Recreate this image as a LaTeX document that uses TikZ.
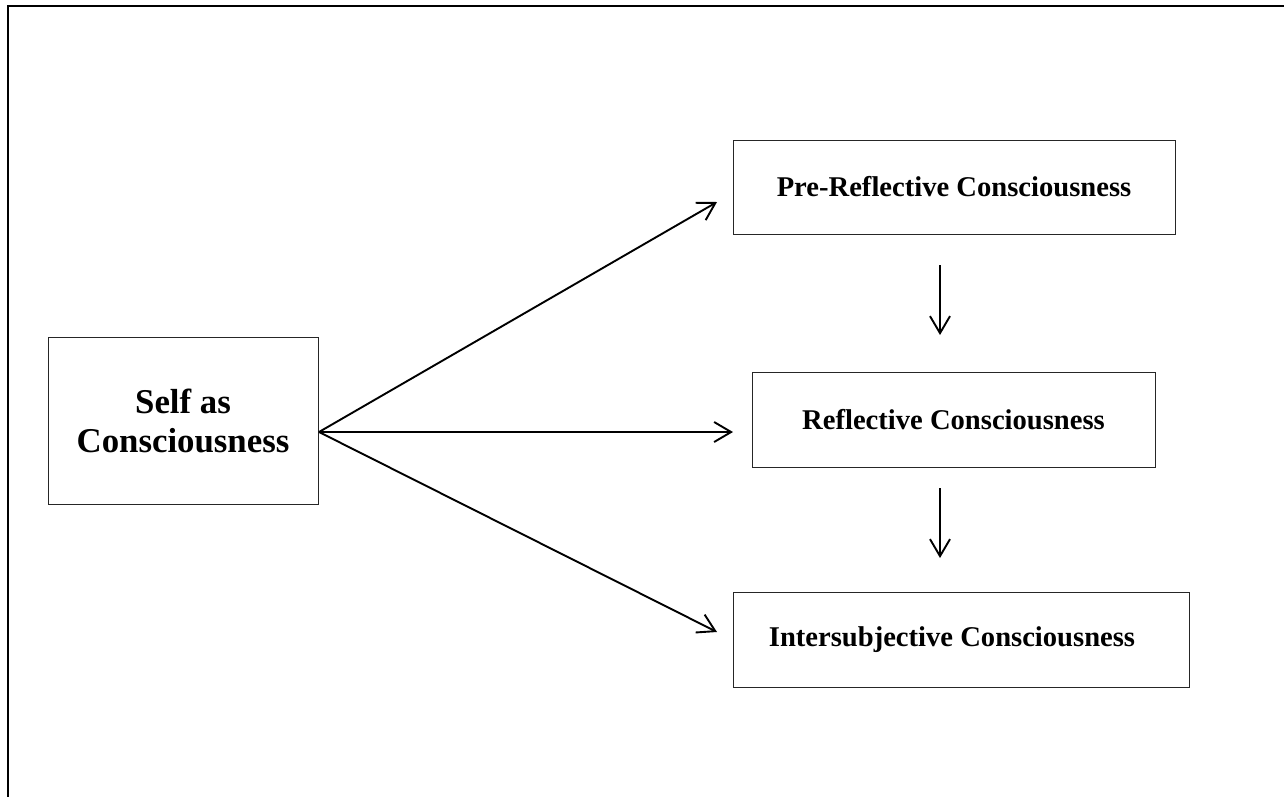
\documentclass[tikz,border=0pt]{standalone}
\usepackage{fontspec}
\setmainfont{Liberation Serif}
\usetikzlibrary{arrows.meta}
\tikzset{
  box/.style={draw=black!85, line width=1pt, inner sep=0pt,
              font=\fontsize{28.6}{34}\selectfont\bfseries},
  bigbox/.style={box, align=center, font=\fontsize{34.8}{39}\selectfont\bfseries},
  arr/.style={line width=1.9pt, -{Straight Barb[length=17pt,width=20pt]}},
  frame/.style={line width=2.4pt}
}
\begin{document}
\begin{tikzpicture}[x=1pt,y=-1pt]
\useasboundingbox (0,0) rectangle (1284,796);
% frame
\draw[frame] (8,797) -- (8,6) -- (1285,6);
% nodes
\node[bigbox, minimum width=270pt, minimum height=167pt] (self) at (183,420.5) {Self as\\Consciousness};
\node[box, minimum width=442pt, minimum height=94pt] (pre) at (954,187) {Pre-Reflective Consciousness};
\node[box, minimum width=403pt, minimum height=95pt] (refl) at (953.5,419.5) {Reflective Consciousness};
\node[box, minimum width=456pt, minimum height=95pt] (inter) at (961,639.5) {Intersubjective Consciousness\kern18pt};
% connector ends
\coordinate (s) at (319,432);
\coordinate (tpre) at (717,202);
\coordinate (trefl) at (733,432);
\coordinate (tinter) at (717,632);
\coordinate (d1a) at (940,265);
\coordinate (d1b) at (940,335);
\coordinate (d2a) at (940,488);
\coordinate (d2b) at (940,558);
% connectors
\draw[arr] (s) -- (tpre);
\draw[arr] (s) -- (trefl);
\draw[arr] (s) -- (tinter);
\draw[arr] (d1a) -- (d1b);
\draw[arr] (d2a) -- (d2b);
\end{tikzpicture}
\end{document}
